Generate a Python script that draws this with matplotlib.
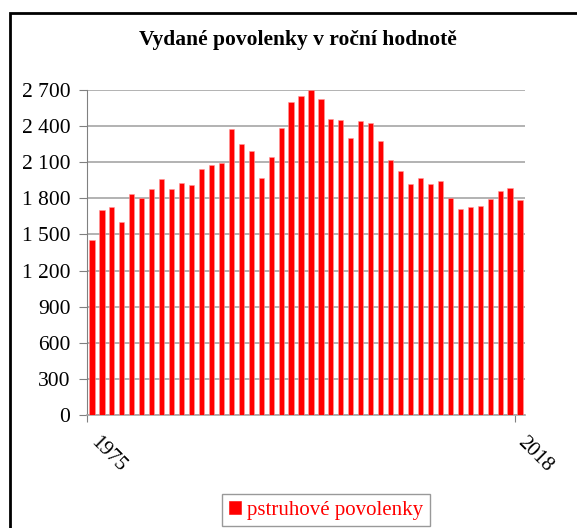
import matplotlib
matplotlib.use("Agg")
import matplotlib.pyplot as plt
import matplotlib.ticker as mticker
from matplotlib.patches import Rectangle
import numpy as np

plt.rcParams['font.family'] = ['Liberation Serif', 'DejaVu Serif']

# Data
years = list(range(1975, 2019))
permits = [1450, 1700, 1730, 1600, 1840, 1800, 1875, 1960, 1875, 1925,
           1910, 2045, 2075, 2095, 2380, 2250, 2190, 1970, 2145, 2385,
           2600, 2650, 2700, 2625, 2455, 2450, 2300, 2440, 2430, 2275,
           2120, 2030, 1920, 1965, 1920, 1945, 1800, 1710, 1730, 1735,
           1795, 1865, 1885, 1790]
y_ticks = list(range(0, 2701, 300))
title = "Vydané povolenky v roční hodnotě"
series_name = "pstruhové povolenky"

W, H = 577, 528
fig = plt.figure(figsize=(W / 100, H / 100), dpi=100)

# outer frame (only left and top edges are visible in the crop)
fig.patches.append(Rectangle((10 / W, -0.1), 1.2, (H - 13) / H + 0.1,
                             transform=fig.transFigure, fill=False,
                             edgecolor='black', linewidth=2))

ax = fig.add_axes([87 / W, (H - 415) / H, (525 - 87) / W, (415 - 90) / H])
x = np.arange(len(years))
ax.bar(x, permits, width=0.52, color='#ff0000', edgecolor='#ff9a9a',
       linewidth=0.4, zorder=3, label=series_name)

ax.set_xlim(-0.5, len(years) - 0.5)
ax.set_ylim(0, 2700)
ax.set_yticks(y_ticks)
ax.yaxis.set_major_formatter(mticker.FuncFormatter(
    lambda v, p: f"{int(v):,}".replace(",", " ")))
ax.grid(axis='y', color='#a6a6a6', linewidth=1.2, zorder=0)
ax.set_axisbelow(True)

for s in ['top', 'right']:
    ax.spines[s].set_visible(False)
ax.spines['left'].set_color('#808080')
ax.spines['bottom'].set_color('#a6a6a6')
ax.spines['bottom'].set_linewidth(1.2)

ax.tick_params(axis='y', length=6, color='#808080', labelsize=15.5, pad=6)
ax.set_xticks([-0.5, len(years) - 1.5])
ax.tick_params(axis='x', length=5, color='#808080', labelbottom=False)

# rotated year labels at first and last category
for xpos, lab in [(-0.55, years[0]), (len(years) - 1.6, years[-1])]:
    ax.text(xpos, -150, str(lab), rotation=-45, ha='left', va='top',
            fontsize=15, transform=ax.transData, clip_on=False)

fig.text(298 / W, 1 - 40 / H, title, ha='center', va='center',
         fontsize=15.5, fontweight='bold')

leg = fig.legend(loc='center', bbox_to_anchor=(326 / W, 1 - 510 / H),
                 fontsize=15, frameon=True, fancybox=False,
                 handlelength=0.6, handleheight=0.6, handletextpad=0.3,
                 borderpad=0.3, borderaxespad=0)
leg.get_frame().set_edgecolor('#808080')
leg.get_frame().set_linewidth(1)
for t in leg.get_texts():
    t.set_color('#ff0000')
for h in leg.legend_handles:
    h.set_edgecolor('#ff0000')

fig.savefig("out.png", dpi=100)
